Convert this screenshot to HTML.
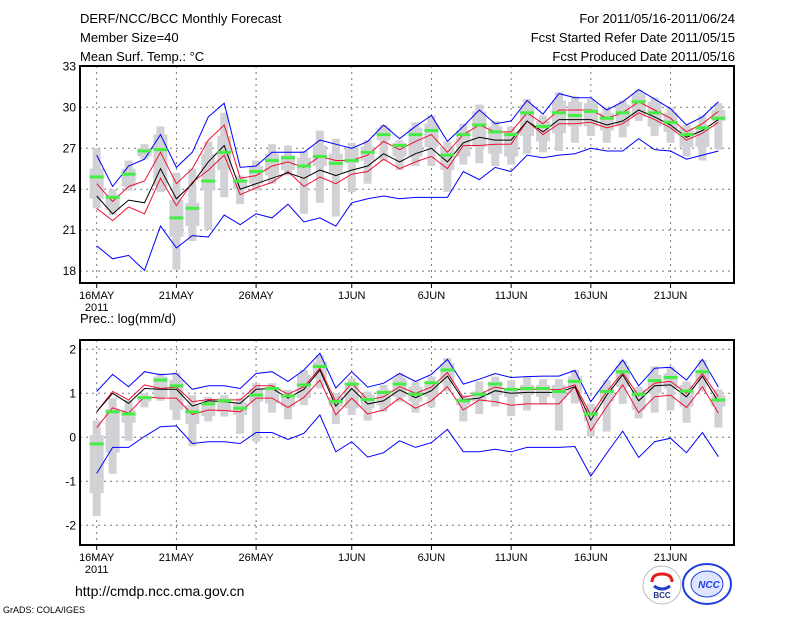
<!DOCTYPE html>
<html><head><meta charset="utf-8"><style>
html,body{margin:0;padding:0;background:#fff;width:800px;height:618px;overflow:hidden}
svg{display:block;font-family:"Liberation Sans",sans-serif}
</style></head><body>
<svg id="c" width="800" height="618" viewBox="0 0 800 618" xmlns="http://www.w3.org/2000/svg">
<g font-size="13" fill="#000">
<text x="80" y="23">DERF/NCC/BCC Monthly Forecast</text>
<text x="80" y="42">Member Size=40</text>
<text x="80" y="61">Mean Surf. Temp.: °C</text>
<text x="735" y="23" text-anchor="end">For 2011/05/16-2011/06/24</text>
<text x="735" y="42" text-anchor="end">Fcst Started Refer Date 2011/05/15</text>
<text x="735" y="61" text-anchor="end">Fcst Produced Date 2011/05/16</text>
<text x="80" y="323">Prec.: log(mm/d)</text>
<text x="75" y="596" font-size="14">http://cmdp.ncc.cma.gov.cn</text>
<text x="3" y="613" font-size="9">GrADS: COLA/IGES</text>
</g>
<g>
<circle cx="662" cy="585" r="19" fill="#fff" stroke="#bbb"/>
<path d="M652 582 q0-8 10-8 q10 0 10 8" fill="none" stroke="#e02020" stroke-width="3"/>
<path d="M654 586 q8 6 16 0" fill="none" stroke="#2040d0" stroke-width="3"/>
<text x="662" y="598" font-size="8" font-weight="bold" text-anchor="middle" fill="#203080">BCC</text>
</g>
<g>
<ellipse cx="707" cy="584" rx="24" ry="20" fill="none" stroke="#2040e0" stroke-width="2"/>
<ellipse cx="707" cy="584" rx="16" ry="13" fill="#dfe4ff" stroke="#2040e0"/>
<text x="709" y="588" font-size="10" font-style="italic" font-weight="bold" text-anchor="middle" fill="#2040e0">NCC</text>
</g>
<g id="plots"></g>
</svg>
<script>
// ---- Temperature panel data (days 16 May .. 24 Jun) ----
const days = ["16MAY","21MAY","26MAY","1JUN","6JUN","11JUN","16JUN","21JUN"];
const dayIdx = [0,5,10,16,21,26,31,36];
const tTicks = [18,21,24,27,30,33];
const pTicks = [-2,-1,0,1,2];
const tBlueHi = [26.5,24.2,25.7,26.2,28.0,25.6,26.7,29.3,30.3,25.6,25.7,26.7,26.7,26.7,27.6,27.3,27.0,27.5,28.7,27.7,28.6,29.4,27.5,28.6,29.8,28.8,29.0,30.5,29.5,31.0,30.7,30.7,29.8,30.4,31.3,30.6,29.9,28.7,29.3,30.4];
const tBlueLo = [19.85,18.9,19.15,18.05,21.3,19.7,20.6,20.5,22.1,21.4,22.2,21.9,22.9,21.6,21.9,21.3,23.0,23.3,23.5,23.3,23.4,23.4,23.4,25.3,24.7,25.6,25.3,26.5,26.3,26.5,26.6,27.0,26.8,26.8,27.7,26.9,26.8,26.2,26.5,26.8];
const tRedHi = [24.4,23.1,24.2,24.6,26.7,24.4,25.5,27.6,28.7,24.8,25.0,25.7,26.0,25.6,26.4,26.1,26.1,26.5,27.5,26.9,27.5,28.0,26.7,28.0,28.7,28.2,28.2,29.6,28.8,29.8,29.8,29.8,29.2,29.6,30.4,29.8,29.2,28.2,28.8,29.7];
const tRedLo = [22.6,21.7,22.7,22.2,24.8,22.8,24.5,25.4,26.5,23.6,24.1,24.5,25.3,24.2,24.9,24.4,25.1,25.3,26.2,25.5,26.0,26.4,25.5,27.2,27.2,27.3,27.3,29.0,28.0,28.8,28.8,28.9,28.5,28.8,29.6,29.1,28.5,27.6,28.1,28.9];
const tMean = [23.5,22.2,23.2,23.0,25.5,23.3,24.4,26.0,27.2,24.0,24.4,24.8,25.2,24.8,25.4,25.0,25.4,25.7,26.6,26.0,26.6,27.0,26.0,27.4,27.8,27.6,27.6,29.0,28.2,29.1,29.1,29.1,28.7,29.0,29.8,29.3,28.7,27.8,28.3,29.1];
const tGreen = [24.9,23.4,25.1,26.8,26.9,21.9,22.6,24.6,26.7,24.6,25.3,26.1,26.3,25.7,26.4,25.9,26.1,26.7,28.0,27.2,28.0,28.3,26.5,28.0,28.7,28.2,28.0,29.6,28.6,29.6,29.4,29.7,29.2,29.6,30.4,29.6,28.9,28.0,28.5,29.2];
const tThinHi = [27.0,24.0,26.1,27.3,28.6,25.2,25.5,27.5,29.6,25.0,26.1,27.3,27.2,26.8,28.3,27.7,27.4,27.6,28.7,27.6,28.9,29.4,27.5,28.8,30.2,29.0,28.6,30.6,29.4,31.1,30.8,30.6,30.0,30.5,31.3,30.7,30.0,28.7,29.4,30.3];
const tThinLo = [22.6,22.1,23.9,26.2,23.8,18.1,20.2,21.0,23.4,22.9,23.9,24.4,25.0,22.2,23.0,22.0,23.8,24.4,26.1,25.4,25.7,25.7,23.8,25.8,25.9,25.7,25.8,26.6,26.7,26.8,27.4,27.9,27.4,27.8,29.0,27.9,27.4,26.4,26.1,26.9];
const tWideHi = [25.5,23.6,25.5,27.0,28.0,23.2,23.0,26.6,27.9,24.7,25.7,26.6,26.5,26.3,27.2,26.6,27.0,27.1,28.5,27.4,28.5,28.8,27.1,28.3,29.7,28.6,28.2,30.2,29.0,30.5,30.4,30.3,29.6,30.2,31.0,30.4,29.6,28.5,28.7,29.8];
const tWideLo = [23.3,22.5,24.2,26.4,24.2,20.5,21.3,23.9,25.4,24.0,24.4,25.0,25.4,25.0,25.7,25.2,25.9,26.1,27.6,26.4,26.4,27.1,25.4,26.4,27.1,26.6,26.4,27.9,27.5,28.1,28.6,28.6,28.3,28.6,29.3,28.6,28.2,27.1,27.1,29.0];
// ---- Precipitation panel data ----
const pBlueHi = [1.04,1.43,1.15,1.49,1.42,1.45,1.09,1.17,1.17,1.11,1.45,1.49,1.27,1.53,1.91,1.12,1.49,1.14,1.23,1.45,1.27,1.43,1.77,1.21,1.32,1.45,1.36,1.38,1.39,1.39,1.52,0.81,1.30,1.76,1.17,1.57,1.59,1.30,1.77,1.14];
const pBlueLo = [-0.82,-0.23,-0.23,0.02,0.24,0.26,-0.14,-0.1,-0.1,-0.14,0.11,0.11,-0.05,0.09,0.51,-0.33,-0.1,-0.45,-0.35,-0.08,-0.23,-0.12,0.18,-0.33,-0.33,-0.27,-0.33,-0.23,-0.23,-0.23,-0.21,-0.88,-0.36,0.14,-0.46,-0.10,-0.02,-0.35,0.11,-0.44];
const pRedHi = [0.58,1.04,0.85,1.19,1.11,1.14,0.81,0.86,0.85,0.85,1.17,1.17,0.98,1.15,1.57,0.81,1.23,0.85,0.92,1.15,1.0,1.14,1.47,0.91,0.98,1.14,1.08,1.09,1.09,1.08,1.19,0.51,1.04,1.47,0.94,1.23,1.27,1.0,1.45,0.92];
const pRedLo = [0.22,0.67,0.55,0.92,0.89,0.89,0.52,0.62,0.61,0.58,0.89,0.89,0.68,0.91,1.30,0.51,0.89,0.53,0.62,0.89,0.66,0.83,1.15,0.62,0.85,0.81,0.73,0.76,0.76,0.76,1.15,0.15,0.70,1.19,0.56,0.92,0.96,0.68,1.15,0.55];
const pMean = [0.58,1.0,0.77,1.11,1.09,1.09,0.71,0.83,0.81,0.77,1.09,1.11,0.89,1.09,1.53,0.71,1.11,0.76,0.83,1.08,0.90,1.06,1.39,0.85,0.89,1.06,1.0,1.02,1.02,1.02,1.15,0.39,0.96,1.42,0.83,1.17,1.19,0.92,1.39,0.81];
const pGreen = [-0.15,0.58,0.53,0.9,1.30,1.17,0.58,0.76,0.83,0.66,0.96,1.11,0.94,1.19,1.61,0.81,1.21,0.86,1.02,1.21,0.98,1.24,1.53,0.83,0.98,1.21,1.09,1.11,1.11,1.04,1.27,0.53,1.04,1.49,0.98,1.29,1.36,1.05,1.49,0.85];
const pThinHi = [0.38,0.89,0.85,1.0,1.45,1.47,0.96,0.92,0.96,0.89,1.23,1.23,1.08,1.53,1.87,1.0,1.34,1.04,1.19,1.45,1.27,1.38,1.80,0.96,1.27,1.38,1.30,1.38,1.32,1.32,1.53,0.76,1.30,1.74,1.15,1.61,1.61,1.27,1.76,1.09];
const pThinLo = [-1.79,-0.83,-0.08,0.68,0.83,0.39,-0.2,0.36,0.47,0.08,-0.1,0.56,0.41,0.73,1.11,0.30,0.51,0.38,0.58,0.81,0.56,0.68,1.04,0.36,0.53,0.70,0.48,0.61,0.76,0.15,0.77,0.02,0.13,0.76,0.43,0.56,0.61,0.33,1.04,0.22];
const pWideHi = [0.05,0.64,0.62,0.94,1.38,1.30,0.73,0.85,0.89,0.79,1.11,1.11,1.0,1.42,1.72,0.92,1.23,0.96,1.08,1.34,1.15,1.27,1.68,0.89,1.04,1.27,1.11,1.19,1.19,1.19,1.38,0.66,1.15,1.62,1.08,1.42,1.45,1.19,1.53,0.96];
const pWideLo = [-1.27,-0.35,0.33,0.81,0.92,0.62,0.30,0.48,0.58,0.51,0.81,0.77,0.70,0.89,1.34,0.70,0.66,0.66,0.73,0.92,0.81,0.92,1.23,0.73,0.81,0.96,0.92,0.96,0.92,0.89,1.0,0.36,0.81,1.15,0.62,1.0,1.11,0.70,1.30,0.70];

const NS='http://www.w3.org/2000/svg';
const root=document.getElementById('plots');
function mk(tag,attrs,parent){const e=document.createElementNS(NS,tag);for(const k in attrs)e.setAttribute(k,attrs[k]);(parent||root).appendChild(e);return e;}
const X0=80,X1=734;
function xS(i){return 96.7+15.94*i;}

function panel(p){
  const g=mk('g',{});
  
  
  const yS=v=>p.py0+(v-p.v0)*p.k;
  // grid
  p.ticks.forEach(t=>{const y=yS(t);
    if(y>p.top+1&&y<p.bot-1){const l=mk('line',{x1:X0,x2:X1,y1:y,y2:y,stroke:'#777','stroke-dasharray':'2,4'},g);
    
    }
    const tx=mk('text',{x:X0-4,y:y+4,'font-size':12,'text-anchor':'end'},g);tx.textContent=t;
    
    
  });
  dayIdx.forEach((d,j)=>{const x=xS(d);
    const l=mk('line',{x1:x,x2:x,y1:p.top,y2:p.bot,stroke:'#777','stroke-dasharray':'2,4'},g);
    
    
    mk('line',{x1:x,x2:x,y1:p.bot,y2:p.bot+5,stroke:'#000'},g);
    const tx=mk('text',{x:x,y:p.bot+16,'font-size':11,'text-anchor':'middle'},g);tx.textContent=days[j];
    
    
  });
  const yr=mk('text',{x:xS(0),y:p.bot+28,'font-size':11,'text-anchor':'middle'},g);yr.textContent='2011';
  
  
  // boxes
  for(let i=0;i<40;i++){const x=xS(i);
    const a=mk('rect',{x:x-4,width:8,y:yS(p.thinHi[i]),height:yS(p.thinLo[i])-yS(p.thinHi[i]),fill:'#d2d2d6'},g);
    
    
    const b=mk('rect',{x:x-7,width:14,y:yS(p.wideHi[i]),height:yS(p.wideLo[i])-yS(p.wideHi[i]),fill:'#d2d2d6'},g);
    
    
  }
  const line=(arr,col,nm)=>{const pl=mk('polyline',{points:arr.map((v,i)=>xS(i).toFixed(1)+','+yS(v).toFixed(1)).join(' '),fill:'none',stroke:col,'stroke-width':1},g);
    
    };
  line(p.blueHi,'#0000ff','max-line');line(p.blueLo,'#0000ff','min-line');
  line(p.redHi,'#ee1133','upper-line');line(p.redLo,'#ee1133','lower-line');
  line(p.mean,'#000','ensemble-mean-line');
  for(let i=0;i<40;i++){const r=mk('rect',{x:xS(i)-7,width:14,y:yS(p.green[i])-1.5,height:3,fill:'#44ee44'},g);
    
    }
  const f=mk('rect',{x:X0,y:p.top,width:X1-X0,height:p.bot-p.top,fill:'none',stroke:'#000','stroke-width':2},g);
  
  
}
panel({name:'temperature-panel',top:66,bot:283,py0:107.3,v0:30,k:-13.65,ticks:tTicks,
  blueHi:tBlueHi,blueLo:tBlueLo,redHi:tRedHi,redLo:tRedLo,mean:tMean,green:tGreen,thinHi:tThinHi,thinLo:tThinLo,wideHi:tWideHi,wideLo:tWideLo});
panel({name:'precipitation-panel',top:340,bot:545,py0:437.3,v0:0,k:-44,ticks:pTicks,
  blueHi:pBlueHi,blueLo:pBlueLo,redHi:pRedHi,redLo:pRedLo,mean:pMean,green:pGreen,thinHi:pThinHi,thinLo:pThinLo,wideHi:pWideHi,wideLo:pWideLo});
</script>
</body></html>
